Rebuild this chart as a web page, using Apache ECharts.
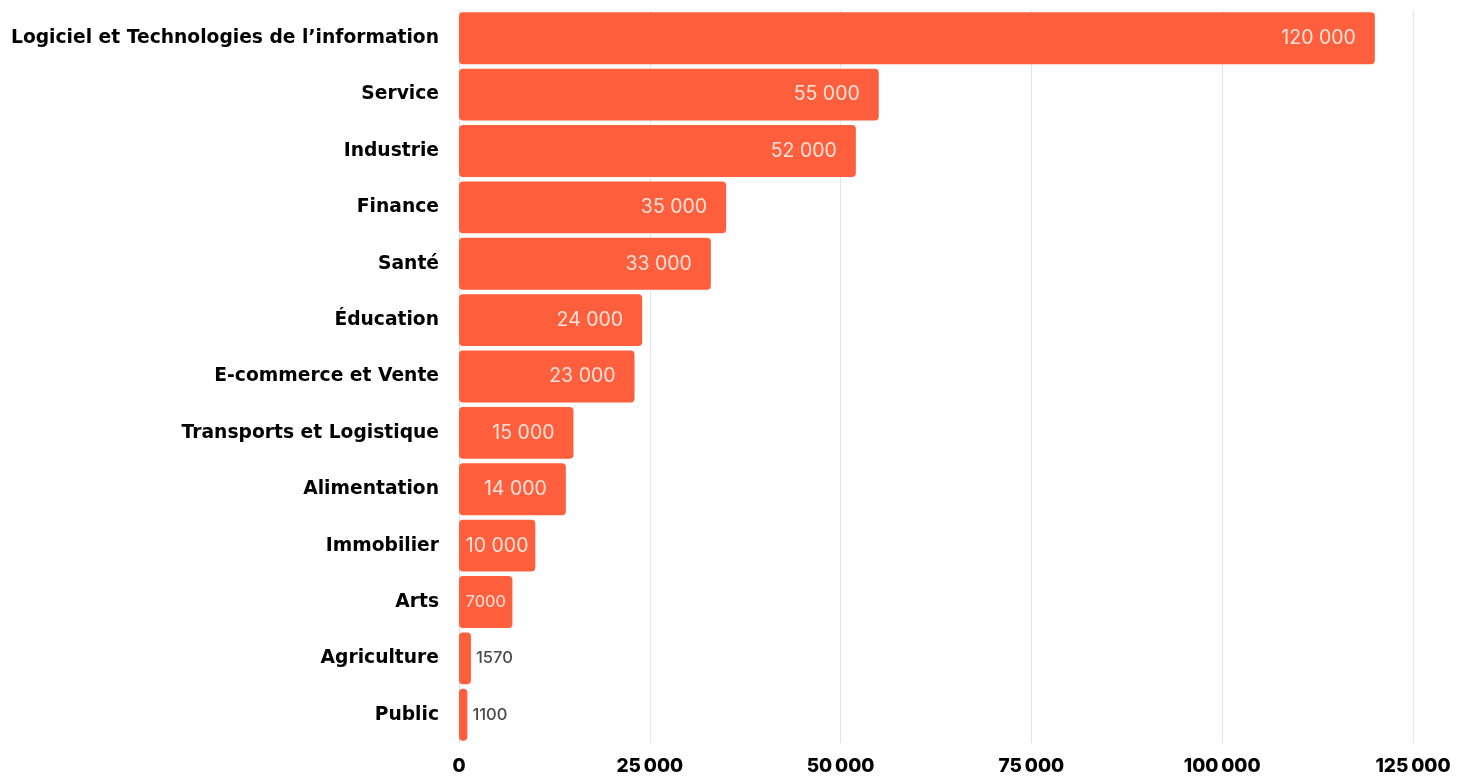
<!DOCTYPE html>
<html><head><meta charset="utf-8">
<script src="https://cdn.jsdelivr.net/npm/echarts@6/dist/echarts.min.js"></script>
<style>html,body{margin:0;padding:0;background:#fff}#c{width:1468px;height:776px}</style>
</head><body><div id="c"></div>
<script>
const categories = ["Logiciel et Technologies de l\u2019information","Service","Industrie","Finance","Sant\u00e9","\u00c9ducation","E-commerce et Vente","Transports et Logistique","Alimentation","Immobilier","Arts","Agriculture","Public"];
const values = [120000,55000,52000,35000,33000,24000,23000,15000,14000,10000,7000,1570,1100];
const valueLabels = ["120 000","55 000","52 000","35 000","33 000","24 000","23 000","15 000","14 000","10 000","7000","1570","1100"];
const xTicks = [0,25000,50000,75000,100000,125000];

function fmt(v){ return String(v).replace(/\B(?=(\d{3})+(?!\d))/g,'\u202f'); }

const data = values.map((v,i)=>{
  let label;
  if (v < 5000) {
    label = {show:true, position:'right', distance:5, color:'#4a4a4a', fontSize:16.5, fontWeight:500};
  } else if (v <= 10000) {
    label = {show:true, position:'inside', color:'#fde3da', fontSize: v<10000?16.5:19.5};
  } else {
    label = {show:true, position:'insideRight', distance:19, color:'#fde3da', fontSize:19.5};
  }
  label.formatter = valueLabels[i];
  label.fontFamily = 'Inter, Lato, sans-serif';
  return {value:v, label};
});

const chart = echarts.init(document.getElementById('c'));
chart.setOption({
  animation:false,
  grid:{left:459, right:55, top:10, bottom:29, containLabel:false},
  xAxis:{type:'value', min:xTicks[0], max:xTicks[xTicks.length-1], interval:25000,
    axisLine:{show:false}, axisTick:{show:false},
    splitLine:{show:true, lineStyle:{color:'#e4e4e4', width:1}},
    axisLabel:{margin:14, color:'#000', fontSize:19, fontWeight:800, fontFamily:'Inter, sans-serif', formatter:v=>fmt(v)}},
  yAxis:{type:'category', data:categories, inverse:true,
    axisLine:{show:true, lineStyle:{color:'#e0e0e0'}}, axisTick:{show:false},
    axisLabel:{margin:20, color:'#000', fontSize:18.7, fontWeight:'bold', fontFamily:'"DejaVu Sans", sans-serif', padding:[5,0,0,0]}},
  series:[{type:'bar', data, barCategoryGap:'8%',
    itemStyle:{color:'#FF5F3D', borderRadius:4}}]
});
</script></body></html>
